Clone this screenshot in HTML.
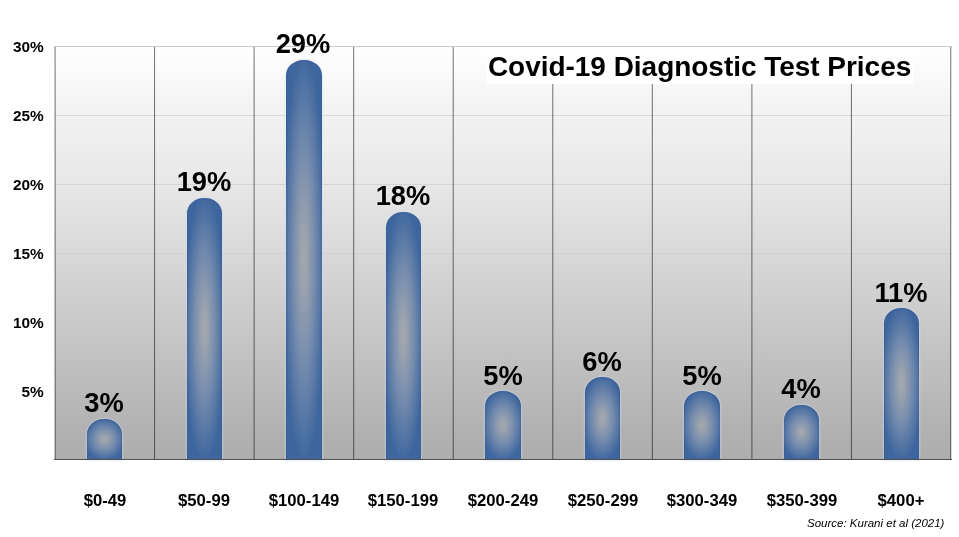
<!DOCTYPE html>
<html><head><meta charset="utf-8"><title>Covid-19 Diagnostic Test Prices</title>
<style>
html,body{margin:0;padding:0;background:#fff;}
body{width:959px;height:537px;position:relative;overflow:hidden;font-family:"Liberation Sans",Arial,Helvetica,sans-serif;font-weight:bold;color:#000;}
.abs{position:absolute;}
.yl,.xl,.vlab,#title,#src{will-change:transform;}
#plot{left:55px;top:46px;width:896px;height:414px;background:linear-gradient(to bottom,#ffffff 0%,#f3f3f3 15%,#e6e6e6 35%,#d4d4d4 55%,#bfbfbf 78%,#b1b1b1 93%,#adadad 100%);}
.hl{position:absolute;left:55px;width:896px;height:1px;background:rgba(120,120,120,0.22);}
.yl{position:absolute;left:0;width:43.7px;text-align:right;font-size:15.4px;line-height:16px;}
.xl{position:absolute;top:491.4px;width:120px;text-align:center;font-size:16.7px;line-height:20px;}
.vlab{position:absolute;width:120px;text-align:center;font-size:27.3px;line-height:30px;}
.bar{position:absolute;border-radius:17.7px 17.7px 0 0 / 15.5px 15.5px 0 0;background:radial-gradient(ellipse 58% 51.5% at 50% 49.5%,#a6a9ae 0%,#9aa2ae 16%,#778dae 50%,#3e669e 100%);box-shadow:0 0 0 1.4px rgba(205,220,250,0.32), inset 0 0 2px rgba(40,68,120,0.6);}
#title{left:486.5px;top:46.5px;width:426px;height:37px;background:#fff;font-size:28px;line-height:39.6px;text-align:left;text-indent:0.9px;white-space:nowrap;letter-spacing:-0.03px;}
#src{right:15px;top:516.4px;font-size:11.5px;line-height:14px;font-weight:normal;font-style:italic;white-space:nowrap;}
</style></head><body>
<div id="plot" class="abs"></div>

<div class="hl" style="top:114.50px;background:#dadada"></div>
<div class="hl" style="top:183.50px;background:#d4d4d4"></div>
<div class="hl" style="top:252.50px;background:#cfcfcf"></div>
<div class="hl" style="top:321.50px;background:#c9c9c9"></div>
<div class="hl" style="top:390.50px;background:#bbbbbb"></div>
<svg class="abs" style="left:0;top:0" width="959" height="537" viewBox="0 0 959 537">
<line x1="154.56" y1="46" x2="154.56" y2="460" stroke="#000" stroke-opacity="0.53" stroke-width="1.05"/>
<line x1="254.11" y1="46" x2="254.11" y2="460" stroke="#000" stroke-opacity="0.53" stroke-width="1.05"/>
<line x1="353.67" y1="46" x2="353.67" y2="460" stroke="#000" stroke-opacity="0.53" stroke-width="1.05"/>
<line x1="453.22" y1="46" x2="453.22" y2="460" stroke="#000" stroke-opacity="0.53" stroke-width="1.05"/>
<line x1="552.78" y1="46" x2="552.78" y2="460" stroke="#000" stroke-opacity="0.53" stroke-width="1.05"/>
<line x1="652.33" y1="46" x2="652.33" y2="460" stroke="#000" stroke-opacity="0.53" stroke-width="1.05"/>
<line x1="751.89" y1="46" x2="751.89" y2="460" stroke="#000" stroke-opacity="0.53" stroke-width="1.05"/>
<line x1="851.44" y1="46" x2="851.44" y2="460" stroke="#000" stroke-opacity="0.53" stroke-width="1.05"/>
<line x1="55.1" y1="46" x2="55.1" y2="460" stroke="#000" stroke-opacity="0.44" stroke-width="1.3"/>
<line x1="950.75" y1="46" x2="950.75" y2="460" stroke="#000" stroke-opacity="0.53" stroke-width="1.05"/>
</svg>
<div class="abs" style="left:54px;top:45.5px;width:897.5px;height:1px;background:#cacaca"></div>
<div id="title" class="abs">Covid-19 Diagnostic Test Prices</div>
<div class="bar" style="left:87.08px;top:418.60px;width:35.4px;height:41.40px"></div>
<div class="vlab" style="left:44.28px;top:388.20px">3%</div>
<div class="bar" style="left:186.63px;top:197.80px;width:35.4px;height:262.20px"></div>
<div class="vlab" style="left:143.83px;top:167.40px">19%</div>
<div class="bar" style="left:286.19px;top:59.80px;width:35.4px;height:400.20px"></div>
<div class="vlab" style="left:243.39px;top:29.40px">29%</div>
<div class="bar" style="left:385.74px;top:211.60px;width:35.4px;height:248.40px"></div>
<div class="vlab" style="left:342.94px;top:181.20px">18%</div>
<div class="bar" style="left:485.30px;top:391.00px;width:35.4px;height:69.00px"></div>
<div class="vlab" style="left:442.50px;top:360.60px">5%</div>
<div class="bar" style="left:584.86px;top:377.20px;width:35.4px;height:82.80px"></div>
<div class="vlab" style="left:542.06px;top:346.80px">6%</div>
<div class="bar" style="left:684.41px;top:391.00px;width:35.4px;height:69.00px"></div>
<div class="vlab" style="left:641.61px;top:360.60px">5%</div>
<div class="bar" style="left:783.97px;top:404.80px;width:35.4px;height:55.20px"></div>
<div class="vlab" style="left:741.17px;top:374.40px">4%</div>
<div class="bar" style="left:883.52px;top:308.20px;width:35.4px;height:151.80px"></div>
<div class="vlab" style="left:840.72px;top:277.80px">11%</div>
<div class="abs" style="left:54px;top:458.5px;width:897.5px;height:1.8px;background:#505050"></div>
<div class="yl" style="top:39.00px">30%</div>
<div class="yl" style="top:108.00px">25%</div>
<div class="yl" style="top:177.00px">20%</div>
<div class="yl" style="top:246.00px">15%</div>
<div class="yl" style="top:315.00px">10%</div>
<div class="yl" style="top:384.00px">5%</div>
<div class="xl" style="left:44.78px">$0-49</div>
<div class="xl" style="left:144.33px">$50-99</div>
<div class="xl" style="left:243.89px">$100-149</div>
<div class="xl" style="left:343.44px">$150-199</div>
<div class="xl" style="left:443.00px">$200-249</div>
<div class="xl" style="left:542.56px">$250-299</div>
<div class="xl" style="left:642.11px">$300-349</div>
<div class="xl" style="left:741.67px">$350-399</div>
<div class="xl" style="left:841.22px">$400+</div>
<div id="src" class="abs">Source: Kurani et al (2021)</div>
</body></html>
